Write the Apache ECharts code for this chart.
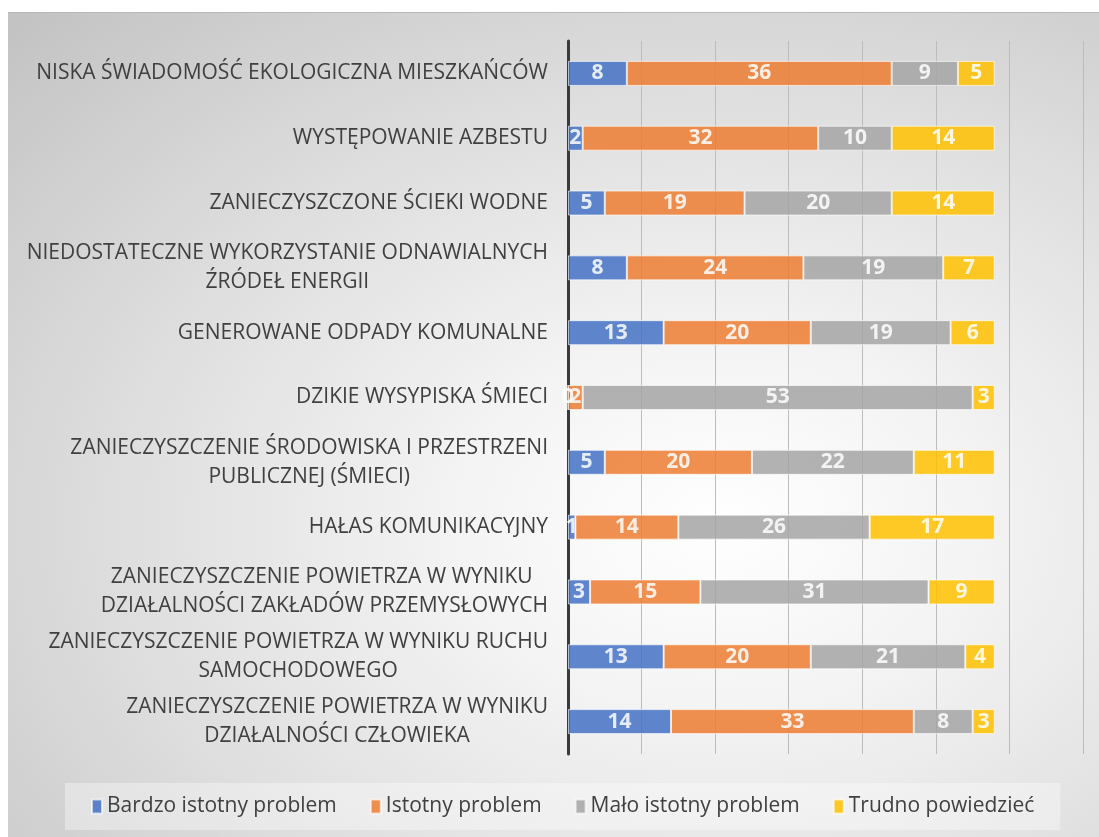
<!DOCTYPE html>
<html>
<head>
<meta charset="utf-8">
<script src="https://cdn.jsdelivr.net/npm/echarts@6/dist/echarts.min.js"></script>
<style>
    body { margin: 0; background: #fff; }
    #panel {
        position: absolute; left: 8px; top: 12px; width: 1091px; height: 825px;
        background: radial-gradient(ellipse at 65% 62%, #ffffff 0%, #f4f4f4 25%, #dedede 60%, #c2c2c2 100%);
        border-top: 1px solid #b8b8b8;
    }
    #chart { position: absolute; left: 0; top: 0; width: 1099px; height: 837px; }
</style>
</head>
<body>
<div id="panel"></div>
<div id="chart"></div>
<script>
// kategorie (od góry do dołu)
const categories = [
    'NISKA ŚWIADOMOŚĆ EKOLOGICZNA MIESZKAŃCÓW',
    'WYSTĘPOWANIE AZBESTU',
    'ZANIECZYSZCZONE ŚCIEKI WODNE',
    'NIEDOSTATECZNE WYKORZYSTANIE ODNAWIALNYCH\nŹRÓDEŁ ENERGII',
    'GENEROWANE ODPADY KOMUNALNE',
    'DZIKIE WYSYPISKA ŚMIECI',
    'ZANIECZYSZCZENIE ŚRODOWISKA I PRZESTRZENI\nPUBLICZNEJ (ŚMIECI)',
    'HAŁAS KOMUNIKACYJNY',
    'ZANIECZYSZCZENIE POWIETRZA W WYNIKU \nDZIAŁALNOŚCI ZAKŁADÓW PRZEMYSŁOWYCH',
    'ZANIECZYSZCZENIE POWIETRZA W WYNIKU RUCHU\nSAMOCHODOWEGO',
    'ZANIECZYSZCZENIE POWIETRZA W WYNIKU\nDZIAŁALNOŚCI CZŁOWIEKA'
]

const seriesNames = ['Bardzo istotny problem', 'Istotny problem', 'Mało istotny problem', 'Trudno powiedzieć']

const bardzoIstotny = [8, 2, 5, 8, 13, 0, 5, 1, 3, 13, 14]
const istotny = [36, 32, 19, 24, 20, 2, 20, 14, 15, 20, 33]
const maloIstotny = [9, 10, 20, 19, 19, 53, 22, 26, 31, 21, 8]
const trudno = [5, 14, 14, 7, 6, 3, 11, 17, 9, 4, 3]

const colors = ['#4472C4', '#ED7D31', '#A5A5A5', '#FFC000']
const values = [bardzoIstotny, istotny, maloIstotny, trudno]

const chart = echarts.init(document.getElementById('chart'))

chart.setOption({
    animation: false,
    textStyle: { fontFamily: 'Open Sans' },
    grid: { left: 568, top: 41, right: 16, bottom: 83, containLabel: false },
    legend: {
        left: 65,
        top: 783,
        padding: [13, 26],
        backgroundColor: 'rgba(255,255,255,0.35)',
        itemWidth: 10,
        itemHeight: 14,
        itemGap: 33,
        icon: 'rect',
        textStyle: { fontSize: 21, color: '#404040', fontFamily: 'Open Sans' },
        data: seriesNames
    },
    xAxis: {
        type: 'value',
        min: 0,
        max: 70,
        interval: 10,
        axisLabel: { show: false },
        axisLine: { show: false },
        axisTick: { show: false },
        splitLine: { lineStyle: { color: '#bcbcbc', width: 1 } }
    },
    yAxis: {
        type: 'category',
        inverse: true,
        data: categories,
        axisTick: { show: false },
        axisLine: { lineStyle: { color: '#3a3a3a', width: 3 } },
        axisLabel: {
            margin: 20,
            color: '#404040',
            fontSize: 21,
            lineHeight: 29,
            formatter: (v) => v.split('\n').map(l => '{c|' + l + '}').join('\n'),
            rich: {
                c: { align: 'center', fontSize: 21, lineHeight: 29, color: '#404040', fontFamily: 'Open Sans' }
            }
        }
    },
    series: seriesNames.map((name, i) => ({
        name: name,
        type: 'bar',
        stack: 'total',
        barWidth: 25,
        data: values[i],
        itemStyle: {
            color: colors[i],
            opacity: 0.85,
            borderColor: 'rgba(255,255,255,0.75)',
            borderWidth: 1
        },
        label: {
            show: true,
            position: 'inside',
            color: '#fff',
            fontWeight: 'bold',
            fontSize: 21,
            fontFamily: 'Open Sans'
        }
    }))
})
</script>
</body>
</html>
